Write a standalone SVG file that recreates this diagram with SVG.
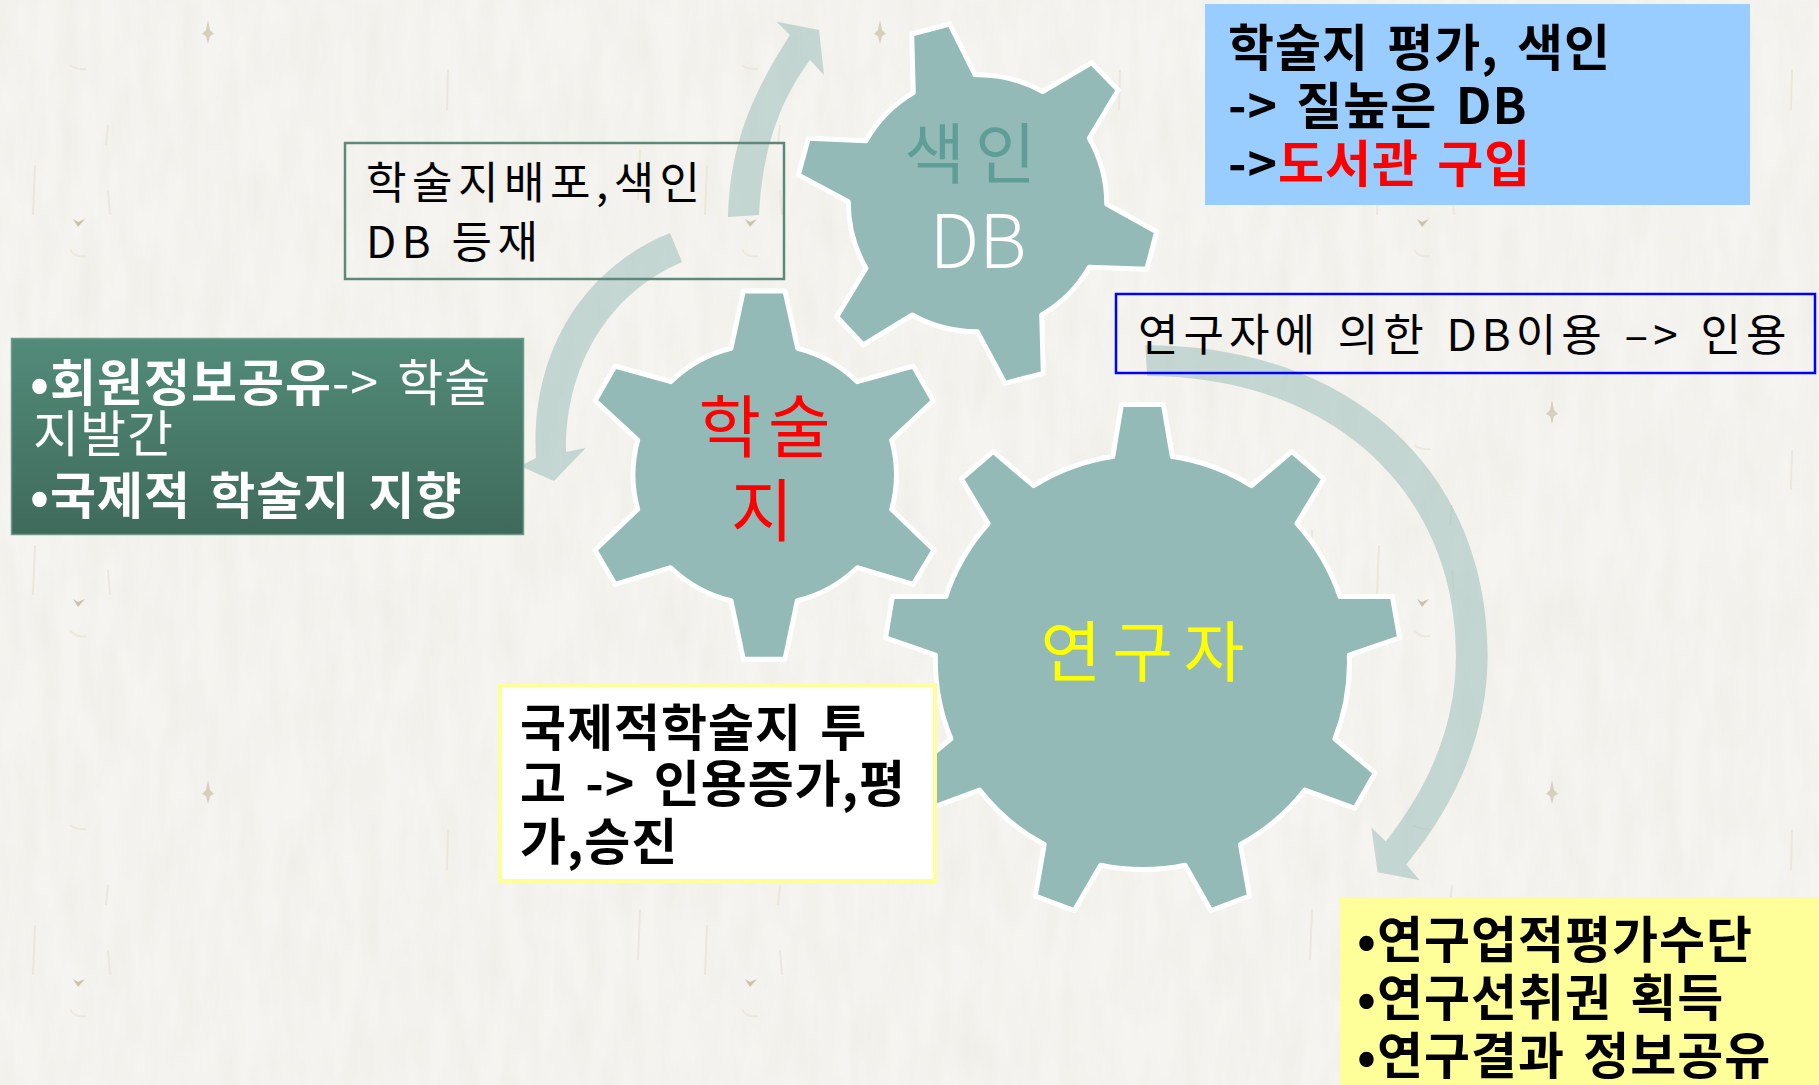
<svg xmlns="http://www.w3.org/2000/svg" width="1819" height="1085" viewBox="0 0 1819 1085">
<style>
text{font-family:"Noto Sans CJK KR","Noto Sans",sans-serif;white-space:pre}
.gear{fill:#93bab6;stroke:#fff;stroke-width:5;stroke-linejoin:round}
.arrow{fill:#93bab6;fill-opacity:.5}
.gt{font-weight:400}
.b{font-weight:700;font-size:50px;fill:#000;letter-spacing:1px;word-spacing:6px}
.r{font-weight:400;font-size:44px;fill:#000}
.w{fill:#fff;font-size:50px;letter-spacing:1px;word-spacing:6px}
</style>
<defs>
<linearGradient id="gr" x1="0" y1="0" x2="0" y2="1"><stop offset="0" stop-color="#528b79"/><stop offset="1" stop-color="#3f6a5b"/></linearGradient>
<filter id="grain" x="0" y="0" width="100%" height="100%"><feTurbulence type="fractalNoise" baseFrequency="0.05 0.012" numOctaves="3" seed="4"/><feColorMatrix values="0 0 0 0 .62  0 0 0 0 .58  0 0 0 0 .48  .22 0 0 0 -.07"/></filter>
<pattern id="tile" width="672" height="380" patternUnits="userSpaceOnUse">
<path d="M73,219 L78,227 L85,219 L78,222Z" fill="#c9c2ae"/>
<path d="M208,20 L210,30 L214,34 L210,36 L208,44 L206,36 L202,34 L206,30Z" fill="#d6cfbc"/>
<path d="M35,165 L33,215M108,125 L106,145M108,190 L110,215M70,250 Q76,258 86,256M70,65 Q76,70 86,69M448,70 L447,110M640,150 L638,200" stroke="#ebe7dc" stroke-width="2" fill="none"/>
</pattern>
</defs>
<rect id="bg" width="1819" height="1085" fill="#f5f4f0"/>
<rect width="1819" height="1085" filter="url(#grain)"/>
<rect width="1819" height="1085" fill="url(#tile)"/>

<g id="connectors">
<path class="arrow" d="M728,217 C730,150 748,100 790,35 L776.7,21.7 L819,30 L824,75 L810,60 C780,100 762,150 759,215Z"/>
<path class="arrow" d="M670,233 C590,265 530,345 536,458 L520,466 L554,481 L585.7,448 L566,452 C565,370 605,295 682,262Z"/>
<path class="arrow" d="M1145.3,345.2 C1350,345 1487.6,470 1487.6,655.6 C1487.600,735 1455,805 1406.2,864.4 L1419.7,880.2 L1377.7,872.3 L1371.3,827.6 L1385.8,841.5 C1430,785 1455.9,725 1455.9,655.6 C1455.9,490 1330,376 1147.1,376.1Z"/>
</g>

<g id="gear-index">
<path class="gear" d="M911.7,34 L949.7,24 L975,74.7 A131,131 0 0 1 1042.7,91.7 L1091.7,62.7 L1118.3,90 L1089.3,138.3 A131,131 0 0 1 1106.7,204 L1156.7,231.7 L1146.7,269.3 L1089.3,267.3 A131,131 0 0 1 1041.7,315 L1043.3,373.3 L1005,383.3 L977.3,331.7 A131,131 0 0 1 912.3,315 L863.3,345 L836.7,316.7 L866,268.3 A131,131 0 0 1 848.3,201.7 L798.3,175 L808.3,138.3 L866,140.7 A131,131 0 0 1 913.3,92.7Z"/>
<text class="gt" x="975" y="178" text-anchor="middle" font-size="66" letter-spacing="10" fill="#5e9e96">색인</text>
<text x="978" y="268" text-anchor="middle" font-size="74" font-weight="300" fill="#fff">DB</text>
</g>

<g id="gear-journal">
<path class="gear" d="M743.3,291 L785,291 L797.7,348.3 A131,131 0 0 1 857.3,381.7 L913.3,366 L933.3,400.7 L891.7,440 A131,131 0 0 1 891.7,509.3 L934,550 L913.3,584.3 L857.3,567.7 A131,131 0 0 1 797.3,600.7 L785,659.3 L743.3,659.3 L731,600.7 A131,131 0 0 1 670.7,567.7 L615,584.3 L595,550 L637.7,509.3 A131,131 0 0 1 637.7,440 L595,400.7 L615,366 L670.7,381.7 A131,131 0 0 1 731,348.3Z"/>
<text class="gt" x="768" y="452" text-anchor="middle" font-size="68" letter-spacing="7" fill="#f00">학술</text>
<text class="gt" x="762" y="536" text-anchor="middle" font-size="68" fill="#f00">지</text>
</g>

<g id="gear-researcher">
<path class="gear" d="M1121.4,404.5 L1163.4,404.5 L1172.3,456.5 A206,206 0 0 1 1251.5,485.7 L1291.8,451.3 L1323.9,478.8 L1297,523.6 A206,206 0 0 1 1340,596.6 L1392.4,596.6 L1399.6,637.9 L1349.3,655.2 A206,206 0 0 1 1334.9,738.8 L1375.2,772.9 L1354.8,808.4 L1304.9,790.1 A206,206 0 0 1 1240.5,844.5 L1249.5,896.2 L1210.9,910.7 L1185.1,865.2 A206,206 0 0 1 1100.7,865.2 L1074.2,910.7 L1035.3,896.2 L1044.2,844.5 A206,206 0 0 1 979.5,790.1 L930.3,808.4 L909.6,772.9 L950.9,738.8 A206,206 0 0 1 935.4,655.2 L885.5,637.9 L892.4,596.6 L945.8,596.6 A206,206 0 0 1 988.1,523.6 L961.3,478.8 L993.3,451.3 L1033.6,485.7 A206,206 0 0 1 1112.8,456.5Z"/>
<text class="gt" x="1148" y="676" text-anchor="middle" font-size="66" letter-spacing="11" fill="#ff0">연구자</text>
</g>

<g id="box-distribution">
<rect x="345" y="143" width="439" height="136" fill="none" stroke="#5b8a78" stroke-width="2.5"/>
<text class="r" x="366" y="199" letter-spacing="5.5">학술지배포,색인</text>
<text class="r" x="366" y="258" letter-spacing="5.5">DB 등재</text>
</g>

<g id="box-quality">
<rect x="1205" y="4" width="545" height="201" fill="#9cf"/>
<text class="b" x="1228" y="66">학술지 평가, 색인</text>
<text class="b" x="1228" y="124">-&gt; 질높은 DB</text>
<text class="b" x="1228" y="182">-&gt;<tspan fill="#f00">도서관 구입</tspan></text>
</g>

<g id="box-citation">
<rect x="1116" y="294" width="699" height="79" fill="none" stroke="#00f" stroke-width="2.5"/>
<text class="r" x="1138" y="351" letter-spacing="5" word-spacing="3">연구자에 의한 DB이용 –&gt; 인용</text>
</g>

<g id="box-members">
<rect x="11.500" y="338.500" width="512" height="196" fill="url(#gr)" stroke="#6b9c8b" stroke-width="1.5"/>
<text class="w" x="30" y="401"><tspan font-weight="700">•회원정보공유</tspan>-&gt; 학술</text>
<text class="w" x="33" y="452">지발간</text>
<text class="w" x="30" y="514" font-weight="700">•국제적 학술지 지향</text>
</g>

<g id="box-submission">
<rect x="500" y="685" width="435" height="196" fill="#fff" stroke="#ff9" stroke-width="4"/>
<text class="b" x="520" y="746">국제적학술지 투</text>
<text class="b" x="520" y="802">고 -&gt; 인용증가,평</text>
<text class="b" x="520" y="860">가,승진</text>
</g>

<g id="box-outcomes">
<rect x="1340" y="897" width="479" height="188" fill="#ff9"/>
<text class="b" x="1357" y="958">•연구업적평가수단</text>
<text class="b" x="1357" y="1016">•연구선취권 획득</text>
<text class="b" x="1357" y="1074">•연구결과 정보공유</text>
</g>
</svg>
